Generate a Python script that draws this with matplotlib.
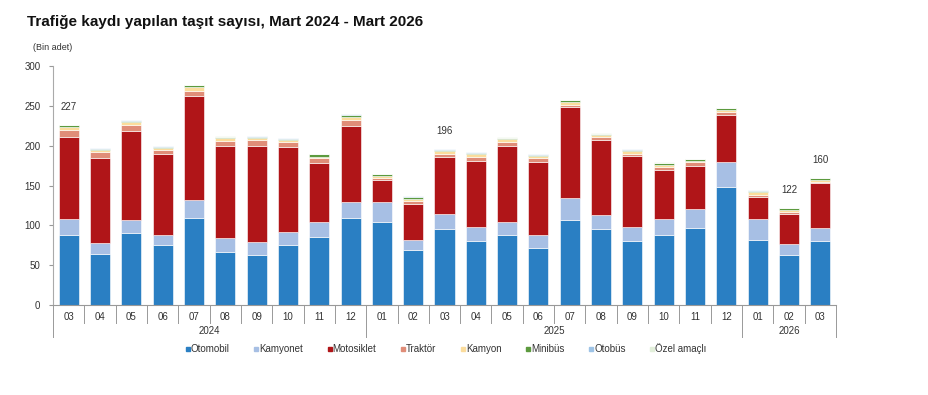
import matplotlib
matplotlib.use("Agg")
import matplotlib.pyplot as plt
import matplotlib.transforms as mtransforms
from matplotlib.lines import Line2D
import numpy as np

plt.rcParams['font.family'] = ['Liberation Sans', 'DejaVu Sans']

months = ["03", "04", "05", "06", "07", "08", "09", "10", "11", "12",
          "01", "02", "03", "04", "05", "06", "07", "08", "09", "10", "11", "12",
          "01", "02", "03"]
years = ["2024", "2025", "2026"]
year_counts = [10, 12, 3]

otomobil = [88, 64, 90, 75.5, 109, 67, 63, 74.7, 85, 109, 104.5, 69, 95.7, 80.6, 87.3, 72,
            107, 95.3, 80.6, 87.3, 96.5, 147.7, 81.4, 63, 80.6]
kamyonet = [20, 14, 17, 12.5, 23, 17, 16, 17, 19.5, 20.7, 24.5, 12.4, 18, 17.2, 16.7, 15.3,
            27.7, 17.2, 17.2, 21, 23.5, 32, 26.9, 13.8, 16]
motosiklet = [103.5, 107, 112, 101, 130, 116, 121, 106, 73.5, 95, 27.5, 45.3, 72.7, 83, 95, 92.3,
              114, 94.8, 89, 61.2, 54, 58.8, 27.2, 37.2, 56]
traktor = [8.5, 7, 7.5, 6, 7, 6, 6.5, 7, 6, 8, 3.5, 3.8, 3.3, 5.5, 5.8, 5.4,
           2.6, 3.3, 3.3, 4.2, 5, 4.2, 3, 2.7, 2.4]
kamyon = [4, 3, 3.5, 2.6, 5, 3, 3, 2, 2, 3.5, 2.4, 3, 3.3, 3.4, 3, 2,
          3.3, 2.5, 3, 2.5, 2, 2.5, 3.3, 2.9, 2.1]
minibus = [1.5, 1, 1.5, 1, 1.7, 1.6, 2, 2, 3, 2.4, 1.6, 2.6, 2, 1.7, 1.7, 1.4,
           2.1, 1.3, 2, 1.7, 1.7, 1.7, 1.7, 1.7, 1.7]
otobus = [0.7] * 25
ozel = [0.3] * 25

series_names = ["Otomobil", "Kamyonet", "Motosiklet", "Traktör", "Kamyon", "Minibüs", "Otobüs", "Özel amaçlı"]
series_vals = [otomobil, kamyonet, motosiklet, traktor, kamyon, minibus, otobus, ozel]
colors = ["#2a7fc3", "#a7bfe4", "#b01518", "#e08d78", "#fbdc9c", "#5c9a3e", "#9dc3e6", "#e2efda"]

labeled_bars = [0, 12, 23, 24]
labeled_vals = [227, 196, 122, 160]

fig = plt.figure(figsize=(9.29, 3.95), dpi=100)
ax = fig.add_axes([53/929, 1 - 305/395, (836 - 53)/929, (305 - 66)/395])

x = np.arange(len(months))
bottom = np.zeros(len(months))
for name, vals, c in zip(series_names, series_vals, colors):
    v = np.array(vals, dtype=float)
    ax.bar(x, v, bottom=bottom, width=0.64, color=c, edgecolor="white", linewidth=0.4, label=name)
    bottom += v

for i, val in zip(labeled_bars, labeled_vals):
    ax.annotate(str(val), (x[i], bottom[i]), xytext=(0, 9), textcoords="offset points",
                ha="center", va="bottom", fontsize=7, color="#333333")

ax.set_xlim(-0.5, len(months) - 0.5)
ax.set_ylim(0, 300)
ax.set_yticks(np.arange(0, 301, 50))
ax.tick_params(axis="y", labelsize=7, length=3, color="#999999", pad=6, labelcolor="#333333")
ax.set_xticks(x)
ax.set_xticklabels(months, fontsize=7, color="#333333")
ax.tick_params(axis="x", length=0, pad=5)

for s in ["top", "right"]:
    ax.spines[s].set_visible(False)
ax.spines["left"].set_color("#aaaaaa")
ax.spines["bottom"].set_color("#999999")

trans = mtransforms.blended_transform_factory(ax.transData, ax.transAxes)
boundaries = [-0.5]
acc = -0.5
for n in year_counts:
    acc += n
    boundaries.append(acc)
for b in np.arange(-0.5, len(months), 1.0):
    if any(abs(b - bb) < 1e-9 for bb in boundaries):
        y1 = -32 / 239
    else:
        y1 = -18 / 239
    ax.add_line(Line2D([b, b], [0, y1], transform=trans, color="#999999", lw=0.7, clip_on=False))

for k, yr in enumerate(years):
    cx = (boundaries[k] + boundaries[k + 1]) / 2
    ax.text(cx, -26 / 239, yr, transform=trans, ha="center", va="center", fontsize=7, color="#333333")

fig.text(27/929, 1 - 22/395, "Trafiğe kaydı yapılan taşıt sayısı, Mart 2024 - Mart 2026",
         fontsize=11, fontweight="bold", va="center", ha="left", color="#111111")
fig.text(33/929, 1 - 47/395, "(Bin adet)", fontsize=6.5, va="center", ha="left", color="#333333")

handles = [Line2D([], [], marker="s", linestyle="none", markersize=3.5, markerfacecolor=c,
                  markeredgecolor=c) for c in colors]
fig.legend(handles, series_names, loc="center", bbox_to_anchor=(446/929, 1 - 349/395), ncol=8,
           frameon=False, fontsize=7, handlelength=0.5, handletextpad=0.05, columnspacing=2.5,
           labelcolor="#333333")

fig.savefig("out.png", dpi=100)
